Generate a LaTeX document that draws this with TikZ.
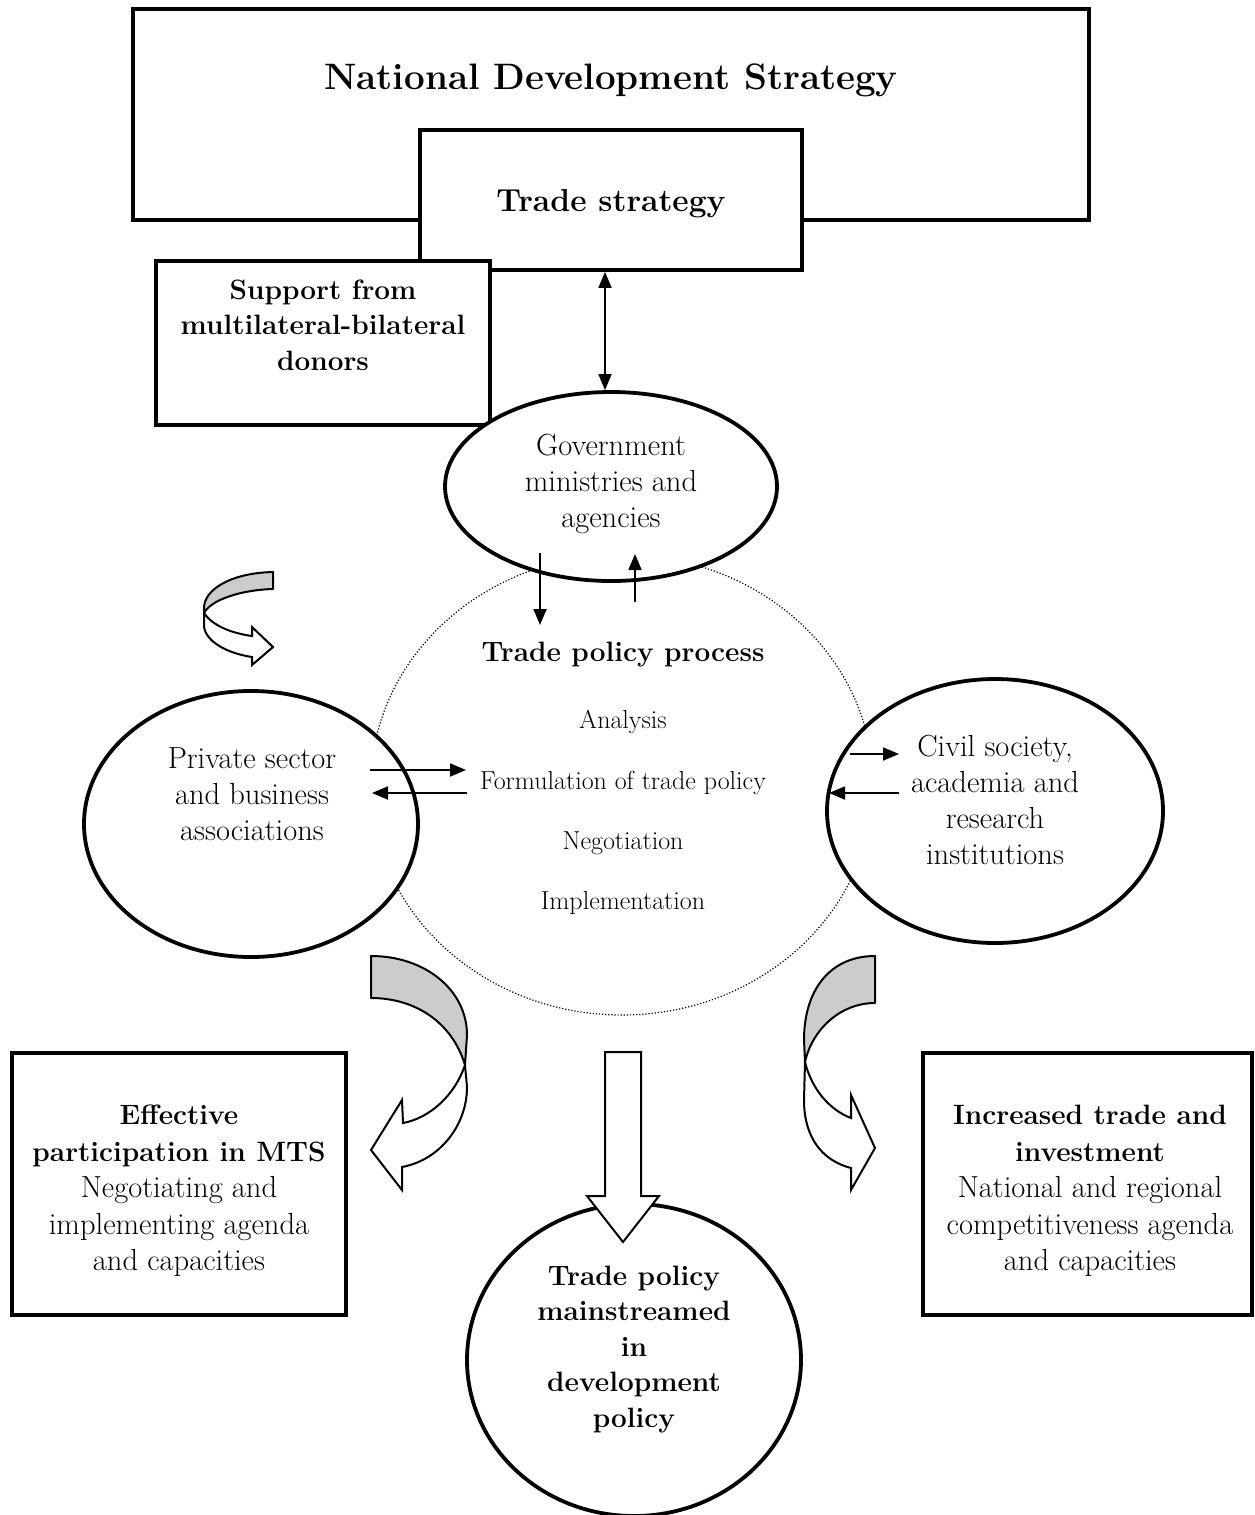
\documentclass[tikz,border=0pt]{standalone}
\usepackage{fontspec}
\usetikzlibrary{shapes.geometric,arrows.meta}
\definecolor{bandgrey}{RGB}{204,204,204}
\newcommand\outhead[1]{{\fontsize{28}{36.5}\selectfont\bfseries #1}}
\tikzset{
  frame/.style={draw, line width=3.8pt, fill=white, inner sep=0pt},
  oval/.style={ellipse, draw, line width=3.8pt, fill=white, inner sep=0pt},
  link/.style={line width=1.8pt, -{Triangle[length=16pt,width=13pt]}},
  bothway/.style={line width=1.8pt, {Triangle[length=16pt,width=13pt]}-{Triangle[length=16pt,width=13pt]}},
  band/.style={draw, line width=2pt, fill=bandgrey, line join=round},
  bandface/.style={draw, line width=2pt, fill=white, line join=miter},
  lbl/.style={align=center, inner sep=0pt},
  headline/.style={lbl, font=\fontsize{36.8}{42}\selectfont\bfseries},
  subhead/.style={lbl, font=\fontsize{31.8}{36}\selectfont\bfseries},
  boldtxt/.style={lbl, font=\fontsize{28}{35.5}\selectfont\bfseries},
  plaintxt/.style={lbl, font=\fontsize{30.5}{36}\selectfont},
  mixtxt/.style={lbl, font=\fontsize{30.5}{36.5}\selectfont},
  steptxt/.style={lbl, font=\fontsize{26}{30}\selectfont}
}
\begin{document}
\begin{tikzpicture}[x=1pt,y=-1pt]
\useasboundingbox (0,0) rectangle (1255,1515);

% strategy frames
\node[frame, minimum width=956pt, minimum height=211pt] (nds) at (611,114.5) {};
\node[headline] (ndsT) at (611,80) {National Development Strategy};
\node[frame, minimum width=382pt, minimum height=140pt] (ts) at (611,200) {};
\node[subhead] (tsT) at (611,204) {Trade strategy};
\node[frame, minimum width=334pt, minimum height=164pt] (donor) at (323,343) {};
\node[boldtxt] (donorT) at (323,325) {Support from\\multilateral-bilateral\\donors};

% trade policy process area
\draw[line width=1.2pt, dash pattern=on 1.2pt off 1.9pt] (622,785) ellipse [x radius=251, y radius=230];
\node[boldtxt] (tpp) at (623,655) {Trade policy process};
\node[steptxt] (s1) at (623,722) {Analysis};
\node[steptxt] (s2) at (623,783) {Formulation of trade policy};
\node[steptxt] (s3) at (623,843) {Negotiation};
\node[steptxt] (s4) at (623,903) {Implementation};

% stakeholders
\node[oval, minimum width=332pt, minimum height=189pt] (gov) at (611,486.5) {};
\node[plaintxt] (govT) at (611,484) {Government\\ministries and\\agencies};
\node[oval, minimum width=334pt, minimum height=266pt] (priv) at (251,824) {};
\node[plaintxt] (privT) at (252,794) {Private sector\\and business\\associations};
\node[oval, minimum width=336pt, minimum height=264pt] (civ) at (995,811) {};
\node[plaintxt] (civT) at (995,800) {Civil society,\\academia and\\research\\institutions};

% links between trade strategy, actors and the process
\draw[bothway] ([xshift=-6pt]ts.south) -- ([xshift=-6pt]gov.north);
\coordinate (govA) at (540,553);
\coordinate (govB) at (540,625);
\coordinate (govC) at (635,602);
\coordinate (govD) at (635,554);
\draw[link] (govA) -- (govB);
\draw[link] (govC) -- (govD);
\coordinate (prA) at (370,770);
\coordinate (prB) at (466,770);
\coordinate (prC) at (467,793);
\coordinate (prD) at (372,793);
\draw[link] (prA) -- (prB);
\draw[link] (prC) -- (prD);
\coordinate (cvA) at (850,754);
\coordinate (cvB) at (899,754);
\coordinate (cvC) at (899,793);
\coordinate (cvD) at (829,793);
\draw[link] (cvA) -- (cvB);
\draw[link] (cvC) -- (cvD);

% small turning arrow at the upper left
\path[band] (273,572) -- (273,589) .. controls (240,590) and (211,600) .. (204,613)
  -- (204,608) .. controls (204,590) and (230,573) .. cycle;
\path[bandface] (204,613) .. controls (212,625) and (230,633) .. (252,636) -- (252,627)
  -- (273,647) -- (252,665) -- (252,657) .. controls (225,653) and (204,640) .. (204,625) -- cycle;

% turning arrow towards the left outcome
\path[band] (371,956) .. controls (425,956) and (467,990) .. (467,1035) -- (465,1065)
  .. controls (452,1022) and (415,998) .. (371,998) -- cycle;
\path[bandface] (465,1065) .. controls (455,1095) and (430,1118) .. (403,1123) -- (402,1100)
  -- (371,1150) -- (402,1190) -- (402,1167) .. controls (440,1160) and (467,1125) .. (467,1087) -- cycle;

% turning arrow towards the right outcome
\path[band] (875,956) -- (875,1003) .. controls (840,1003) and (812,1030) .. (805,1062)
  -- (804,1040) .. controls (804,990) and (830,956) .. cycle;
\path[bandface] (805,1062) .. controls (812,1090) and (830,1110) .. (851,1118) -- (851,1095)
  -- (875,1148) -- (851,1190) -- (851,1168) .. controls (820,1160) and (804,1135) .. (804,1100) -- cycle;

% outcomes
\node[frame, minimum width=334pt, minimum height=262pt] (mts) at (179,1184) {};
\node[mixtxt] (mtsT) at (179,1191) {\outhead{Effective}\\\outhead{participation in MTS}\\Negotiating and\\implementing agenda\\and capacities};
\node[frame, minimum width=329pt, minimum height=262pt] (inv) at (1087.5,1184) {};
\node[mixtxt] (invT) at (1090,1191) {\outhead{Increased trade and}\\\outhead{investment}\\National and regional\\competitiveness agenda\\and capacities};
\node[oval, minimum width=334pt, minimum height=312pt] (main) at (634,1360) {};
\node[boldtxt] (mainT) at (634,1349.5) {Trade policy\\mainstreamed\\in\\development\\policy};

% broad arrow into the mainstreaming circle
\path[bandface] (605,1052) -- (641,1052) -- (641,1196) -- (659,1196) -- (623,1242)
  -- (587,1196) -- (605,1196) -- cycle;
\end{tikzpicture}
\end{document}
